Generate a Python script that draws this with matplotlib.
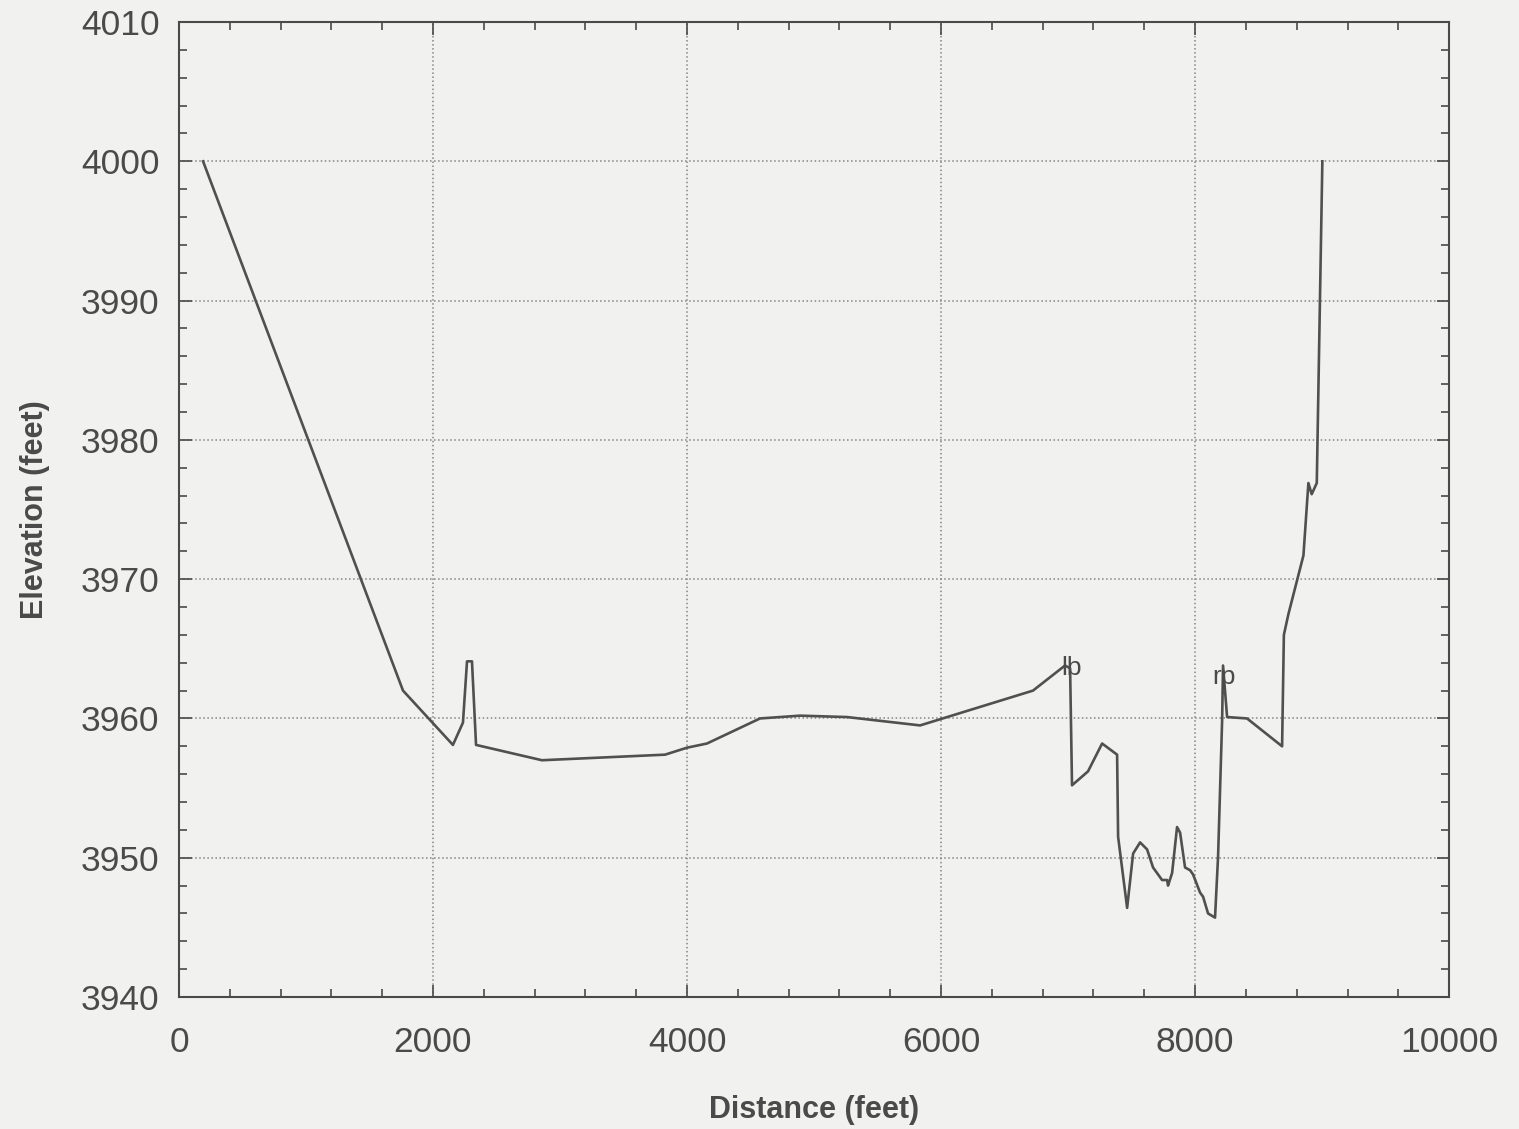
import matplotlib.pyplot as plt
from matplotlib.ticker import MultipleLocator

# cross-section survey: station distance (ft) and ground elevation (ft)
distance = [190, 1764, 2157, 2236, 2268, 2307, 2339, 2858, 3827, 4000, 4157,
            4575, 4890, 5260, 5835, 6724, 6976, 7016, 7031, 7157, 7268, 7386,
            7394, 7465, 7512, 7567, 7622, 7669, 7740, 7780, 7787, 7819, 7858,
            7882, 7921, 7961, 7984, 8039, 8063, 8102, 8157, 8181, 8213, 8220,
            8252, 8409, 8685, 8699, 8735, 8853, 8892, 8918, 8958, 9002]
elevation = [4000.0, 3962.0, 3958.1, 3959.7, 3964.1, 3964.1, 3958.1, 3957.0,
             3957.4, 3957.9, 3958.2, 3960.0, 3960.2, 3960.1, 3959.5, 3962.0,
             3963.8, 3963.6, 3955.2, 3956.2, 3958.2, 3957.4, 3951.5, 3946.4,
             3950.3, 3951.1, 3950.6, 3949.3, 3948.4, 3948.4, 3948.0, 3948.9,
             3952.2, 3951.8, 3949.3, 3949.1, 3948.8, 3947.5, 3947.2, 3946.0,
             3945.7, 3950.1, 3959.9, 3963.8, 3960.1, 3960.0, 3958.0, 3966.0,
             3967.5, 3971.7, 3976.9, 3976.1, 3976.9, 4000.0]

# bank station markers
bank_labels = ["lb", "rp"]
bank_x = [7030, 8230]
bank_y = [3963.6, 3963.0]

bg = "#f1f1ef"
ink = "#4a4a4a"
plt.rcParams["font.family"] = ["Liberation Sans", "DejaVu Sans"]

fig = plt.figure(figsize=(15.19, 11.29), dpi=100, facecolor=bg)
ax = fig.add_axes([0.1178, 0.1169, 0.8362, 0.8636], facecolor=bg)

ax.plot(distance, elevation, color="#505050", linewidth=1.9)
for lab, bx, by in zip(bank_labels, bank_x, bank_y):
    ax.text(bx, by, lab, fontsize=19, color=ink, ha="center", va="center")

ax.set_xlim(0, 10000)
ax.set_ylim(3940, 4010)
ax.xaxis.set_major_locator(MultipleLocator(2000))
ax.xaxis.set_minor_locator(MultipleLocator(400))
ax.yaxis.set_major_locator(MultipleLocator(10))
ax.yaxis.set_minor_locator(MultipleLocator(2))
ax.tick_params(which="both", direction="in", top=True, right=True,
               color=ink, width=1.2)
ax.tick_params(which="major", length=9, labelsize=25.5, labelcolor=ink)
ax.tick_params(axis="x", which="major", pad=21)
ax.tick_params(axis="y", which="major", pad=14)
ax.tick_params(which="minor", length=6)
ax.grid(True, which="major", linestyle=":", color="#858585", linewidth=1.1)
for s in ax.spines.values():
    s.set_color(ink)
    s.set_linewidth(1.5)

ax.set_xlabel("Distance (feet)", fontsize=22, fontweight="bold", color=ink,
              labelpad=26)
ax.set_ylabel("Elevation (feet)", fontsize=22, fontweight="bold", color=ink,
              labelpad=22)

fig.savefig("out.png", dpi=100, facecolor=bg)
